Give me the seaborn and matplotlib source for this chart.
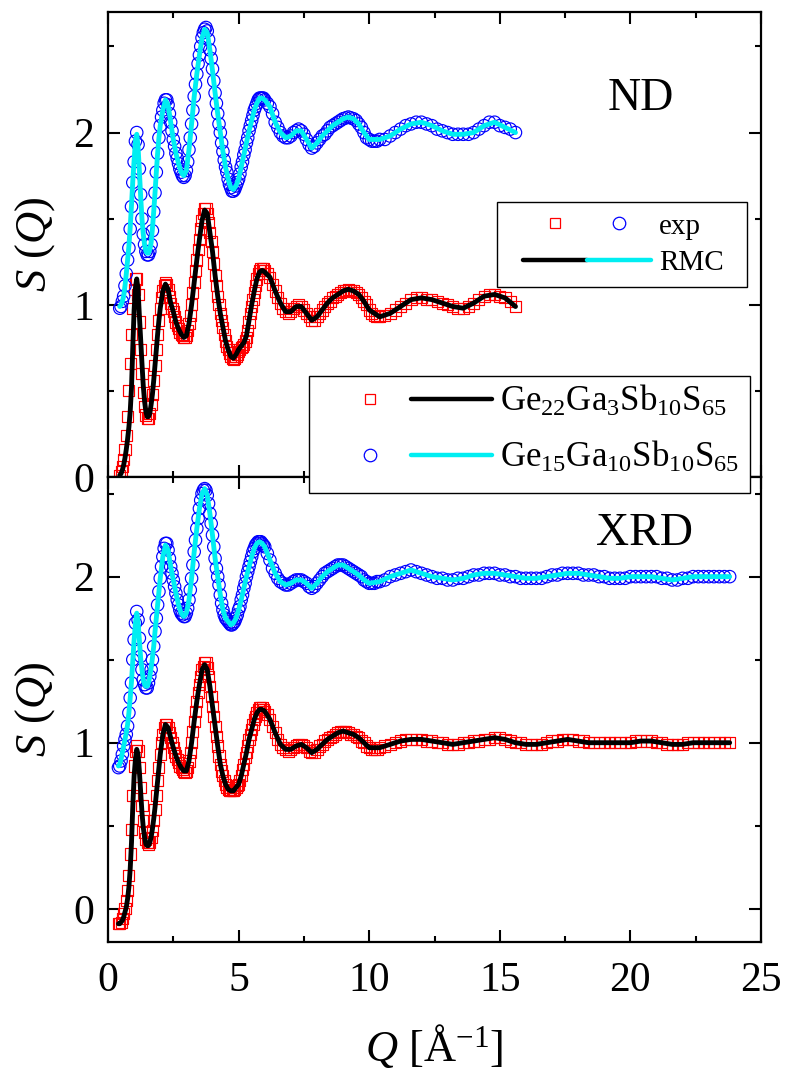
import matplotlib
matplotlib.use("Agg")
import matplotlib.pyplot as plt
from matplotlib.lines import Line2D
from matplotlib.patches import Rectangle
from matplotlib.legend_handler import HandlerTuple
from matplotlib.ticker import MultipleLocator
import seaborn as sns

# ---------------------------------------------------------------------------
# Structure factors S(Q).  Ga3 = Ge22Ga3Sb10S65, Ga10 = Ge15Ga10Sb10S65
# (the Ga10 curves carry a +1 vertical offset).
# ---------------------------------------------------------------------------

# Neutron diffraction, measured
nd_q = [
    0.45, 0.50, 0.55, 0.60, 0.65, 0.70, 0.75, 0.80, 0.85, 0.90,
    0.95, 1.00, 1.05, 1.10, 1.15, 1.20, 1.25, 1.30, 1.35, 1.40,
    1.45, 1.50, 1.55, 1.60, 1.65, 1.70, 1.75, 1.80, 1.85, 1.90,
    1.95, 2.00, 2.05, 2.10, 2.15, 2.20, 2.25, 2.30, 2.35, 2.40,
    2.45, 2.50, 2.55, 2.60, 2.65, 2.70, 2.75, 2.80, 2.85, 2.90,
    2.95, 3.00, 3.05, 3.10, 3.15, 3.20, 3.25, 3.30, 3.35, 3.40,
    3.45, 3.50, 3.55, 3.60, 3.65, 3.70, 3.75, 3.80, 3.85, 3.90,
    3.95, 4.00, 4.05, 4.10, 4.15, 4.20, 4.25, 4.30, 4.35, 4.40,
    4.45, 4.50, 4.55, 4.60, 4.65, 4.70, 4.75, 4.80, 4.85, 4.90,
    4.95, 5.00, 5.05, 5.10, 5.15, 5.20, 5.25, 5.30, 5.35, 5.40,
    5.45, 5.50, 5.55, 5.60, 5.65, 5.70, 5.75, 5.80, 5.85, 5.90,
    5.95, 6.00, 6.1, 6.2, 6.3, 6.4, 6.5, 6.6, 6.7, 6.8,
    6.9, 7.0, 7.1, 7.2, 7.3, 7.4, 7.5, 7.6, 7.7, 7.8,
    7.9, 8.0, 8.1, 8.2, 8.3, 8.4, 8.5, 8.6, 8.7, 8.8,
    8.9, 9.0, 9.1, 9.2, 9.3, 9.4, 9.5, 9.6, 9.7, 9.8,
    9.9, 10.0, 10.1, 10.2, 10.3, 10.4, 10.6, 10.8, 11.0, 11.2,
    11.4, 11.6, 11.8, 12.0, 12.2, 12.4, 12.6, 12.8, 13.0, 13.2,
    13.4, 13.6, 13.8, 14.0, 14.2, 14.4, 14.6, 14.8, 15.0, 15.2,
    15.4, 15.6,
]
nd_ga3_exp = [
    0.01, 0.03, 0.06, 0.10, 0.16, 0.24, 0.35, 0.50, 0.66, 0.83,
    0.98, 1.09, 1.15, 1.15, 1.06, 0.90, 0.74, 0.60, 0.49, 0.41,
    0.36, 0.34, 0.34, 0.37, 0.42, 0.48, 0.56, 0.65, 0.74, 0.83,
    0.91, 0.98, 1.04, 1.08, 1.11, 1.13, 1.12, 1.09, 1.05, 1.01,
    0.98, 0.96, 0.93, 0.90, 0.88, 0.86, 0.84, 0.83, 0.82, 0.81,
    0.81, 0.82, 0.85, 0.89, 0.94, 1.00, 1.07, 1.13, 1.20, 1.26,
    1.32, 1.38, 1.44, 1.49, 1.53, 1.56, 1.56, 1.53, 1.48, 1.42,
    1.37, 1.31, 1.24, 1.17, 1.11, 1.05, 1.00, 0.95, 0.91, 0.87,
    0.83, 0.79, 0.76, 0.74, 0.72, 0.70, 0.69, 0.68, 0.69, 0.70,
    0.71, 0.73, 0.74, 0.75, 0.76, 0.77, 0.79, 0.81, 0.85, 0.90,
    0.95, 0.99, 1.03, 1.07, 1.11, 1.15, 1.18, 1.20, 1.21, 1.21,
    1.21, 1.20, 1.18, 1.16, 1.12, 1.08, 1.04, 1.01, 0.98, 0.96,
    0.95, 0.96, 0.98, 0.99, 1.00, 0.99, 0.97, 0.95, 0.93, 0.91,
    0.91, 0.93, 0.95, 0.97, 0.99, 1.01, 1.02, 1.04, 1.05, 1.06,
    1.07, 1.08, 1.085, 1.09, 1.085, 1.08, 1.07, 1.06, 1.04, 1.02,
    1.00, 0.97, 0.95, 0.94, 0.93, 0.93, 0.94, 0.95, 0.97, 0.99,
    1.01, 1.03, 1.04, 1.04, 1.03, 1.03, 1.02, 1.01, 1.00, 0.99,
    0.98, 0.98, 0.99, 1.01, 1.03, 1.05, 1.06, 1.06, 1.05, 1.04,
    1.02, 0.99,
]
nd_ga10_exp = [
    0.98, 0.99, 1.02, 1.05, 1.11, 1.18, 1.26, 1.33, 1.44, 1.57,
    1.71, 1.83, 1.95, 2.00, 1.93, 1.79, 1.64, 1.50, 1.41, 1.35,
    1.31, 1.29, 1.29, 1.31, 1.35, 1.43, 1.54, 1.65, 1.77, 1.88,
    1.97, 2.04, 2.09, 2.13, 2.17, 2.19, 2.19, 2.16, 2.11, 2.06,
    2.01, 1.96, 1.92, 1.88, 1.85, 1.82, 1.79, 1.77, 1.75, 1.74,
    1.75, 1.78, 1.83, 1.90, 1.97, 2.05, 2.13, 2.21, 2.28, 2.34,
    2.40, 2.45, 2.50, 2.55, 2.58, 2.60, 2.61, 2.59, 2.54, 2.48,
    2.43, 2.37, 2.30, 2.23, 2.17, 2.11, 2.05, 2.00, 1.94, 1.89,
    1.84, 1.80, 1.77, 1.73, 1.70, 1.68, 1.66, 1.66, 1.67, 1.69,
    1.71, 1.73, 1.76, 1.80, 1.83, 1.87, 1.90, 1.94, 1.97, 2.01,
    2.04, 2.07, 2.10, 2.13, 2.15, 2.17, 2.19, 2.20, 2.20, 2.20,
    2.20, 2.19, 2.17, 2.15, 2.11, 2.06, 2.03, 2.00, 1.98, 1.97,
    1.97, 1.98, 2.00, 2.01, 2.02, 2.01, 1.99, 1.96, 1.93, 1.91,
    1.92, 1.94, 1.96, 1.98, 1.99, 2.01, 2.03, 2.04, 2.05, 2.06,
    2.07, 2.08, 2.085, 2.09, 2.085, 2.08, 2.07, 2.05, 2.03, 2.00,
    1.97, 1.96, 1.95, 1.95, 1.95, 1.96, 1.96, 1.98, 2.00, 2.02,
    2.04, 2.05, 2.06, 2.06, 2.05, 2.04, 2.02, 2.01, 2.00, 1.99,
    1.99, 1.99, 1.99, 2.00, 2.02, 2.04, 2.06, 2.06, 2.04, 2.03,
    2.02, 2.00,
]

# Neutron diffraction, RMC fits
nd_q_rmc = [
    0.45, 0.50, 0.55, 0.60, 0.65, 0.70, 0.75, 0.80, 0.85, 0.90,
    0.95, 1.00, 1.05, 1.10, 1.15, 1.20, 1.25, 1.30, 1.35, 1.40,
    1.45, 1.50, 1.55, 1.60, 1.65, 1.70, 1.75, 1.80, 1.85, 1.90,
    1.95, 2.00, 2.1, 2.2, 2.3, 2.4, 2.5, 2.6, 2.7, 2.8,
    2.9, 3.0, 3.1, 3.2, 3.3, 3.4, 3.5, 3.6, 3.7, 3.8,
    3.9, 4.0, 4.1, 4.2, 4.3, 4.4, 4.5, 4.6, 4.7, 4.8,
    4.9, 5.0, 5.1, 5.2, 5.3, 5.4, 5.5, 5.6, 5.7, 5.8,
    5.9, 6.0, 6.2, 6.4, 6.6, 6.8, 7.0, 7.2, 7.4, 7.6,
    7.8, 8.0, 8.2, 8.4, 8.6, 8.8, 9.0, 9.2, 9.4, 9.6,
    9.8, 10.0, 10.4, 10.8, 11.2, 11.6, 12.0, 12.4, 12.8, 13.2,
    13.6, 14.0, 14.4, 14.8, 15.2, 15.6,
]
nd_ga3_rmc = [
    0.01, 0.02, 0.04, 0.07, 0.11, 0.16, 0.22, 0.29, 0.38, 0.52,
    0.76, 0.97, 1.10, 1.15, 1.09, 0.94, 0.80, 0.66, 0.53, 0.44,
    0.38, 0.35, 0.35, 0.37, 0.42, 0.48, 0.56, 0.65, 0.74, 0.83,
    0.91, 0.98, 1.08, 1.12, 1.09, 1.01, 0.96, 0.90, 0.86, 0.83,
    0.81, 0.82, 0.89, 1.00, 1.13, 1.26, 1.38, 1.49, 1.55, 1.53,
    1.42, 1.31, 1.17, 1.05, 0.95, 0.87, 0.79, 0.74, 0.70, 0.69,
    0.71, 0.74, 0.76, 0.78, 0.82, 0.91, 1.00, 1.08, 1.15, 1.19,
    1.20, 1.19, 1.16, 1.08, 1.01, 0.96, 0.96, 0.99, 0.99, 0.95,
    0.91, 0.93, 0.97, 1.01, 1.04, 1.06, 1.08, 1.09, 1.08, 1.06,
    1.02, 0.97, 0.93, 0.95, 0.99, 1.03, 1.04, 1.03, 1.01, 0.99,
    0.98, 1.01, 1.05, 1.06, 1.04, 0.99,
]
nd_ga10_rmc = [
    0.99, 1.00, 1.02, 1.05, 1.11, 1.18, 1.26, 1.34, 1.45, 1.58,
    1.72, 1.84, 1.95, 1.99, 1.92, 1.78, 1.63, 1.50, 1.41, 1.35,
    1.31, 1.30, 1.30, 1.32, 1.36, 1.44, 1.54, 1.65, 1.77, 1.88,
    1.97, 2.04, 2.13, 2.19, 2.16, 2.06, 1.96, 1.88, 1.82, 1.77,
    1.75, 1.78, 1.90, 2.05, 2.21, 2.34, 2.45, 2.55, 2.60, 2.58,
    2.48, 2.36, 2.23, 2.11, 2.00, 1.89, 1.80, 1.73, 1.68, 1.67,
    1.69, 1.73, 1.80, 1.87, 1.94, 2.01, 2.07, 2.13, 2.17, 2.20,
    2.20, 2.19, 2.15, 2.06, 2.00, 1.97, 1.98, 2.01, 2.01, 1.96,
    1.91, 1.94, 1.98, 2.01, 2.04, 2.06, 2.08, 2.09, 2.08, 2.05,
    2.00, 1.96, 1.96, 1.98, 2.02, 2.05, 2.06, 2.04, 2.01, 1.99,
    1.99, 2.00, 2.04, 2.06, 2.03, 2.00,
]

# X-ray diffraction, measured
xrd_q = [
    0.40,
    0.45, 0.50, 0.55, 0.60, 0.65, 0.70, 0.75, 0.80, 0.85, 0.90,
    0.95, 1.00, 1.05, 1.10, 1.15, 1.20, 1.25, 1.30, 1.35, 1.40,
    1.45, 1.50, 1.55, 1.60, 1.65, 1.70, 1.75, 1.80, 1.85, 1.90,
    1.95, 2.00, 2.05, 2.10, 2.15, 2.20, 2.25, 2.30, 2.35, 2.40,
    2.45, 2.50, 2.55, 2.60, 2.65, 2.70, 2.75, 2.80, 2.85, 2.90,
    2.95, 3.00, 3.05, 3.10, 3.15, 3.20, 3.25, 3.30, 3.35, 3.40,
    3.45, 3.50, 3.55, 3.60, 3.65, 3.70, 3.75, 3.80, 3.85, 3.90,
    3.95, 4.00, 4.05, 4.10, 4.15, 4.20, 4.25, 4.30, 4.35, 4.40,
    4.45, 4.50, 4.55, 4.60, 4.65, 4.70, 4.75, 4.80, 4.85, 4.90,
    4.95, 5.00, 5.05, 5.10, 5.15, 5.20, 5.25, 5.30, 5.35, 5.40,
    5.45, 5.50, 5.55, 5.60, 5.65, 5.70, 5.75, 5.80, 5.85, 5.90,
    5.95, 6.00, 6.1, 6.2, 6.3, 6.4, 6.5, 6.6, 6.7, 6.8,
    6.9, 7.0, 7.1, 7.2, 7.3, 7.4, 7.5, 7.6, 7.7, 7.8,
    7.9, 8.0, 8.1, 8.2, 8.3, 8.4, 8.5, 8.6, 8.7, 8.8,
    8.9, 9.0, 9.1, 9.2, 9.3, 9.4, 9.5, 9.6, 9.7, 9.8,
    9.9, 10.0, 10.1, 10.2, 10.3, 10.4, 10.6, 10.8, 11.0, 11.2,
    11.4, 11.6, 11.8, 12.0, 12.2, 12.4, 12.6, 12.8, 13.0, 13.2,
    13.4, 13.6, 13.8, 14.0, 14.2, 14.4, 14.6, 14.8, 15.0, 15.2,
    15.4, 15.6, 15.8, 16.0, 16.2, 16.4, 16.6, 16.8, 17.0, 17.2,
    17.4, 17.6, 17.8, 18.0, 18.2, 18.4, 18.6, 18.8, 19.0, 19.2,
    19.4, 19.6, 19.8, 20.0, 20.2, 20.4, 20.6, 20.8, 21.0, 21.2,
    21.4, 21.6, 21.8, 22.0, 22.2, 22.4, 22.6, 22.8, 23.0, 23.2,
    23.4, 23.6, 23.8,
]
xrd_ga3_exp = [
    -0.09,
    -0.09, -0.08, -0.06, -0.03, 0.00, 0.05, 0.11, 0.20, 0.33, 0.48,
    0.68, 0.86, 0.95, 0.98, 0.95, 0.85, 0.73, 0.62, 0.53, 0.46,
    0.42, 0.40, 0.39, 0.40, 0.43, 0.47, 0.53, 0.60, 0.68, 0.77,
    0.85, 0.93, 1.00, 1.05, 1.09, 1.11, 1.11, 1.09, 1.06, 1.03,
    1.00, 0.97, 0.94, 0.92, 0.90, 0.88, 0.86, 0.85, 0.84, 0.83,
    0.82, 0.83, 0.85, 0.89, 0.94, 1.00, 1.07, 1.13, 1.19, 1.25,
    1.30, 1.35, 1.40, 1.44, 1.46, 1.48, 1.48, 1.45, 1.40, 1.34,
    1.28, 1.22, 1.16, 1.10, 1.04, 0.98, 0.92, 0.87, 0.83, 0.80,
    0.77, 0.75, 0.73, 0.72, 0.71, 0.71, 0.71, 0.71, 0.72, 0.73,
    0.74, 0.75, 0.77, 0.80, 0.84, 0.87, 0.91, 0.94, 0.98, 1.02,
    1.05, 1.08, 1.11, 1.14, 1.16, 1.18, 1.20, 1.21, 1.21, 1.21,
    1.20, 1.19, 1.17, 1.14, 1.10, 1.06, 1.02, 0.99, 0.97, 0.96,
    0.95, 0.96, 0.97, 0.98, 0.99, 0.99, 0.98, 0.97, 0.95, 0.94,
    0.94, 0.96, 0.98, 0.99, 1.01, 1.02, 1.03, 1.04, 1.05, 1.06,
    1.07, 1.07, 1.07, 1.06, 1.05, 1.05, 1.04, 1.03, 1.01, 1.00,
    0.98, 0.97, 0.96, 0.96, 0.96, 0.97, 0.98, 0.99, 1.00, 1.01,
    1.02, 1.02, 1.02, 1.02, 1.01, 1.01, 1.00, 1.00, 0.99, 0.99,
    0.99, 1.00, 1.00, 1.01, 1.01, 1.02, 1.02, 1.03, 1.03, 1.02,
    1.01, 1.00, 1.00, 0.99, 0.99, 0.99, 0.99, 1.00, 1.01, 1.01,
    1.02, 1.02, 1.02, 1.01, 1.01, 1.00, 1.00, 1.00, 1.00, 1.00,
    1.00, 1.00, 1.00, 1.00, 1.01, 1.01, 1.01, 1.01, 1.00, 1.00,
    0.99, 0.99, 0.99, 0.99, 1.00, 1.00, 1.00, 1.00, 1.00, 1.00,
    1.00, 1.00, 1.00,
]
xrd_ga10_exp = [
    0.85,
    0.86, 0.89, 0.93, 0.98, 1.02, 1.05, 1.10, 1.18, 1.27, 1.36,
    1.50, 1.62, 1.72, 1.79, 1.74, 1.63, 1.52, 1.44, 1.38, 1.35,
    1.33, 1.33, 1.36, 1.40, 1.44, 1.50, 1.58, 1.67, 1.75, 1.83,
    1.91, 1.99, 2.06, 2.12, 2.17, 2.20, 2.20, 2.16, 2.11, 2.06,
    2.02, 1.98, 1.94, 1.90, 1.86, 1.83, 1.80, 1.78, 1.77, 1.76,
    1.76, 1.78, 1.81, 1.86, 1.92, 1.99, 2.07, 2.15, 2.22, 2.29,
    2.35, 2.41, 2.46, 2.50, 2.52, 2.53, 2.52, 2.49, 2.44, 2.38,
    2.32, 2.25, 2.18, 2.11, 2.05, 2.00, 1.95, 1.89, 1.84, 1.80,
    1.77, 1.75, 1.74, 1.73, 1.72, 1.71, 1.71, 1.72, 1.73, 1.75,
    1.77, 1.80, 1.82, 1.86, 1.89, 1.93, 1.96, 2.00, 2.03, 2.06,
    2.09, 2.12, 2.15, 2.17, 2.19, 2.20, 2.21, 2.21, 2.21, 2.20,
    2.19, 2.18, 2.14, 2.10, 2.05, 2.02, 1.99, 1.97, 1.96, 1.95,
    1.95, 1.96, 1.97, 1.98, 1.98, 1.98, 1.97, 1.96, 1.94, 1.93,
    1.94, 1.96, 1.98, 2.00, 2.02, 2.03, 2.04, 2.05, 2.06, 2.07,
    2.07, 2.07, 2.06, 2.05, 2.04, 2.03, 2.02, 2.01, 2.00, 1.98,
    1.97, 1.96, 1.96, 1.96, 1.97, 1.97, 1.98, 2.00, 2.01, 2.02,
    2.03, 2.04, 2.03, 2.02, 2.01, 2.00, 1.99, 1.99, 1.98, 1.98,
    1.99, 1.99, 2.00, 2.01, 2.01, 2.02, 2.02, 2.02, 2.01, 2.01,
    2.00, 2.00, 1.99, 1.99, 1.99, 1.99, 1.99, 2.00, 2.01, 2.01,
    2.02, 2.02, 2.02, 2.02, 2.01, 2.01, 2.01, 2.00, 2.00, 1.99,
    1.99, 1.99, 1.99, 2.00, 2.00, 2.00, 2.00, 2.00, 2.00, 1.99,
    1.99, 1.98, 1.98, 1.99, 1.99, 2.00, 2.00, 2.00, 2.00, 2.00,
    2.00, 2.00, 2.00,
]

# X-ray diffraction, RMC fits
xrd_q_rmc = [
    0.40,
    0.45, 0.50, 0.55, 0.60, 0.65, 0.70, 0.75, 0.80, 0.85, 0.90,
    0.95, 1.00, 1.05, 1.10, 1.15, 1.20, 1.25, 1.30, 1.35, 1.40,
    1.45, 1.50, 1.55, 1.60, 1.65, 1.70, 1.75, 1.80, 1.85, 1.90,
    1.95, 2.00, 2.1, 2.2, 2.3, 2.4, 2.5, 2.6, 2.7, 2.8,
    2.9, 3.0, 3.1, 3.2, 3.3, 3.4, 3.5, 3.6, 3.7, 3.8,
    3.9, 4.0, 4.1, 4.2, 4.3, 4.4, 4.5, 4.6, 4.7, 4.8,
    4.9, 5.0, 5.1, 5.2, 5.3, 5.4, 5.5, 5.6, 5.7, 5.8,
    5.9, 6.0, 6.2, 6.4, 6.6, 6.8, 7.0, 7.2, 7.4, 7.6,
    7.8, 8.0, 8.2, 8.4, 8.6, 8.8, 9.0, 9.2, 9.4, 9.6,
    9.8, 10.0, 10.4, 10.8, 11.2, 11.6, 12.0, 12.4, 12.8, 13.2,
    13.6, 14.0, 14.4, 14.8, 15.2, 15.6, 16.0, 16.4, 16.8, 17.2,
    17.6, 18.0, 18.4, 18.8, 19.2, 19.6, 20.0, 20.4, 20.8, 21.2,
    21.6, 22.0, 22.4, 22.8, 23.2, 23.6, 23.8,
]
xrd_ga3_rmc = [
    -0.09,
    -0.09, -0.08, -0.07, -0.05, -0.02, 0.01, 0.06, 0.13, 0.24, 0.40,
    0.62, 0.80, 0.90, 0.96, 0.93, 0.83, 0.70, 0.58, 0.49, 0.43,
    0.39, 0.38, 0.38, 0.40, 0.43, 0.48, 0.54, 0.61, 0.69, 0.77,
    0.85, 0.93, 1.05, 1.11, 1.09, 1.03, 0.97, 0.92, 0.88, 0.85,
    0.83, 0.83, 0.89, 1.00, 1.13, 1.25, 1.35, 1.44, 1.47, 1.44,
    1.34, 1.22, 1.10, 0.98, 0.87, 0.80, 0.75, 0.72, 0.71, 0.71,
    0.73, 0.75, 0.80, 0.87, 0.94, 1.02, 1.08, 1.14, 1.18, 1.20,
    1.20, 1.19, 1.14, 1.06, 0.99, 0.96, 0.96, 0.98, 0.99, 0.97,
    0.94, 0.96, 0.99, 1.02, 1.04, 1.06, 1.07, 1.06, 1.05, 1.03,
    1.00, 0.97, 0.97, 0.99, 1.01, 1.02, 1.02, 1.01, 1.00, 0.99,
    1.00, 1.01, 1.02, 1.03, 1.02, 1.00, 0.99, 0.99, 1.00, 1.01,
    1.02, 1.01, 1.00, 1.00, 1.00, 1.00, 1.00, 1.01, 1.01, 1.00,
    0.99, 0.99, 1.00, 1.00, 1.00, 1.00, 1.00,
]
xrd_ga10_rmc = [
    0.86,
    0.87, 0.90, 0.94, 0.98, 1.02, 1.06, 1.11, 1.18, 1.27, 1.37,
    1.50, 1.62, 1.72, 1.78, 1.73, 1.62, 1.51, 1.44, 1.38, 1.35,
    1.34, 1.34, 1.36, 1.40, 1.45, 1.51, 1.58, 1.67, 1.75, 1.83,
    1.91, 1.99, 2.12, 2.19, 2.16, 2.06, 1.98, 1.90, 1.83, 1.78,
    1.76, 1.78, 1.86, 1.99, 2.15, 2.29, 2.41, 2.50, 2.53, 2.49,
    2.38, 2.25, 2.11, 2.00, 1.89, 1.80, 1.75, 1.73, 1.71, 1.72,
    1.75, 1.80, 1.86, 1.93, 2.00, 2.06, 2.12, 2.17, 2.20, 2.21,
    2.20, 2.18, 2.10, 2.02, 1.97, 1.95, 1.96, 1.98, 1.98, 1.96,
    1.93, 1.96, 2.00, 2.03, 2.05, 2.07, 2.07, 2.05, 2.03, 2.01,
    1.98, 1.96, 1.97, 2.00, 2.02, 2.04, 2.02, 2.00, 1.99, 1.98,
    1.99, 2.01, 2.02, 2.02, 2.01, 2.00, 1.99, 1.99, 2.00, 2.01,
    2.02, 2.02, 2.01, 2.00, 1.99, 1.99, 2.00, 2.00, 2.00, 1.99,
    1.98, 1.99, 2.00, 2.00, 2.00, 2.00, 2.00,
]

LABEL_GA3 = r"Ge$_{22}$Ga$_{3}$Sb$_{10}$S$_{65}$"
LABEL_GA10 = r"Ge$_{15}$Ga$_{10}$Sb$_{10}$S$_{65}$"

RED, BLUE, CYAN = "#ff0000", "#0000ff", "#00eef2"

# ---------------------------------------------------------------------------
sns.set_style("ticks")
plt.rcParams["font.family"] = ["Liberation Serif", "DejaVu Serif"]
plt.rcParams["mathtext.fontset"] = "custom"
plt.rcParams["mathtext.rm"] = "Liberation Serif"
plt.rcParams["mathtext.it"] = "Liberation Serif:italic"
plt.rcParams["mathtext.bf"] = "Liberation Serif:bold"
for key in ("text.color", "axes.labelcolor", "xtick.color", "ytick.color",
            "axes.edgecolor"):
    plt.rcParams[key] = "black"

W, H = 785, 1075
fig = plt.figure(figsize=(W / 100, H / 100), dpi=100)
fig.patch.set_facecolor("white")


def px_box(x0, y0, x1, y1):
    """Figure-fraction rectangle from pixel corners (origin top-left)."""
    return [x0 / W, 1 - y1 / H, (x1 - x0) / W, (y1 - y0) / H]


ax_nd = fig.add_axes(px_box(108, 12, 761, 477))
ax_xrd = fig.add_axes(px_box(108, 477, 761, 942))


def hollow_scatter(ax, q, s, marker, size, color, z):
    sns.scatterplot(x=q, y=s, ax=ax, marker=marker, s=size,
                    linewidth=0.85, legend=False, zorder=z)
    coll = ax.collections[-1]
    coll.set_facecolor("none")
    coll.set_edgecolor(color)


def draw_panel(ax, q, a_exp, b_exp, q_rmc, a_rmc, b_rmc):
    assert len(q) == len(a_exp) == len(b_exp)
    assert len(q_rmc) == len(a_rmc) == len(b_rmc)
    hollow_scatter(ax, q, a_exp, "s", 64, RED, 2)
    sns.lineplot(x=q_rmc, y=a_rmc, ax=ax, color="black", lw=3.5,
                 sort=False, estimator=None, legend=False, zorder=3)
    hollow_scatter(ax, q, b_exp, "o", 80, BLUE, 4)
    sns.lineplot(x=q_rmc, y=b_rmc, ax=ax, color=CYAN, lw=3.5,
                 sort=False, estimator=None, legend=False, zorder=5)


draw_panel(ax_nd, nd_q, nd_ga3_exp, nd_ga10_exp,
           nd_q_rmc, nd_ga3_rmc, nd_ga10_rmc)
draw_panel(ax_xrd, xrd_q, xrd_ga3_exp, xrd_ga10_exp,
           xrd_q_rmc, xrd_ga3_rmc, xrd_ga10_rmc)

for ax in (ax_nd, ax_xrd):
    ax.set_facecolor("white")
    ax.set_xlim(0, 25)
    ax.xaxis.set_major_locator(MultipleLocator(5))
    ax.xaxis.set_minor_locator(MultipleLocator(2.5))
    ax.yaxis.set_major_locator(MultipleLocator(1))
    ax.yaxis.set_minor_locator(MultipleLocator(0.5))
    ax.tick_params(which="both", direction="in", top=True, right=True,
                   width=1.5, color="black", labelcolor="black", labelsize=30)
    ax.tick_params(which="major", length=8.5)
    ax.tick_params(which="minor", length=4)
    ax.tick_params(axis="x", pad=14)
    ax.tick_params(axis="y", pad=10)
    for sp in ax.spines.values():
        sp.set_linewidth(1.6)
        sp.set_color("black")
    ax.set_ylabel(r"$S$ ($Q$)", fontsize=32, labelpad=12, color="black")
    ax.set_xlabel("")

ax_nd.set_ylim(0, 2.70)
ax_xrd.set_ylim(-0.2, 2.60)
ax_nd.tick_params(labelbottom=False)
ax_xrd.set_xlabel(r"$Q$ [Å$^{-1}$]", fontsize=32, labelpad=16, color="black")

ax_nd.text(0.816, 0.789, "ND", transform=ax_nd.transAxes,
           ha="center", va="baseline", fontsize=33, color="black")
ax_xrd.text(0.822, 0.854, "XRD", transform=ax_xrd.transAxes,
            ha="center", va="baseline", fontsize=33, color="black")

# legend frames
for (x0, y0, x1, y1) in [(497, 202, 747, 287), (309, 376, 750, 493)]:
    b = px_box(x0, y0, x1, y1)
    fig.add_artist(Rectangle((b[0], b[1]), b[2], b[3], transform=fig.transFigure,
                             facecolor="white", edgecolor="black", lw=1.0,
                             zorder=5))

sq = Line2D([], [], ls="none", marker="s", ms=7.8, mfc="none", mec=RED, mew=0.9)
ci = Line2D([], [], ls="none", marker="o", ms=9.0, mfc="none", mec=BLUE, mew=0.9)
bl = Line2D([], [], color="black", lw=3.2)
cy = Line2D([], [], color=CYAN, lw=3.2)
tuple_handler = {tuple: HandlerTuple(ndivide=None, pad=0)}

leg1 = fig.legend([(sq, ci), (bl, cy)], ["exp", "RMC"], handler_map=tuple_handler,
                  loc="center left", bbox_to_anchor=(523 / W, 1 - 244.5 / H),
                  frameon=False, fontsize=21, handlelength=4.39,
                  handletextpad=0.27, labelspacing=0.34, borderpad=0,
                  borderaxespad=0, labelcolor="black")
leg1.set_zorder(6)

leg2 = fig.legend([(sq, bl), (ci, cy)], [LABEL_GA3, LABEL_GA10],
                  handler_map=tuple_handler, loc="center left",
                  bbox_to_anchor=(329.5 / W, 1 - 429.5 / H), frameon=False,
                  fontsize=25, handlelength=4.68, handletextpad=0.23,
                  labelspacing=0.62, borderpad=0, borderaxespad=0,
                  labelcolor="black")
leg2.set_zorder(6)

fig.savefig("out.png", dpi=100, facecolor="white")
